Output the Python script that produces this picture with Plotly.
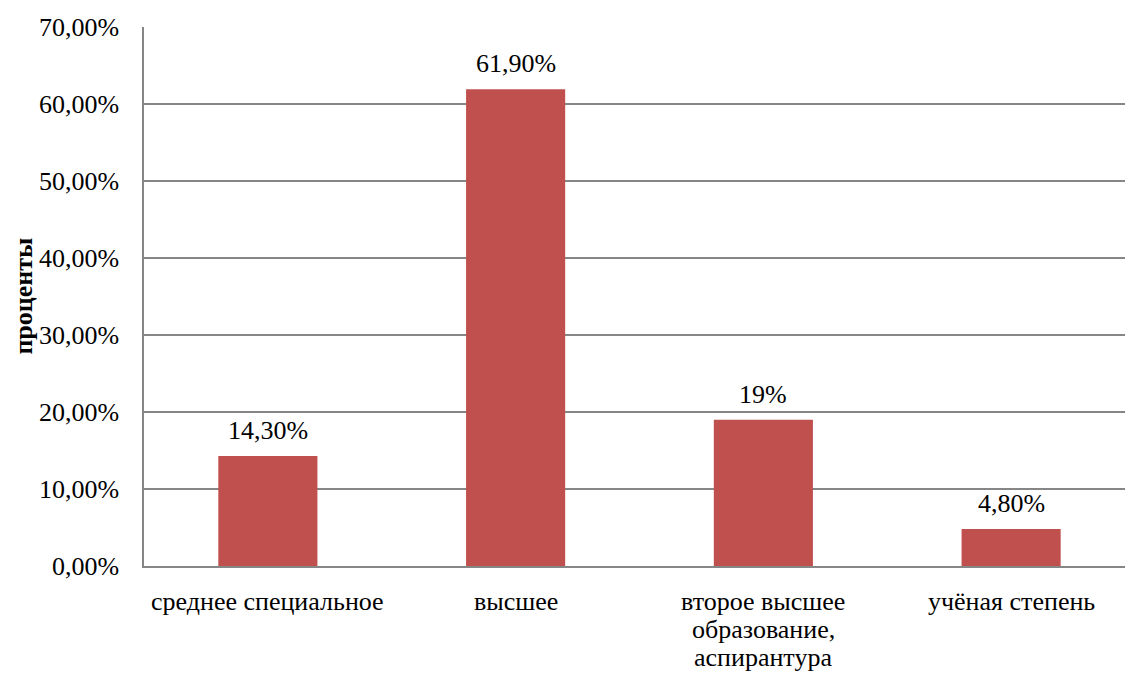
import plotly.graph_objects as go

categories = ["среднее специальное", "высшее", "второе высшее<br>образование,<br>аспирантура", "учёная степень"]
values = [14.3, 61.9, 19.0, 4.8]
value_labels = ["14,30%", "61,90%", "19%", "4,80%"]
tick_vals = [0, 10, 20, 30, 40, 50, 60, 70]
tick_text = ["0,00%", "10,00%", "20,00%", "30,00%", "40,00%", "50,00%", "60,00%", "70,00%"]

FONT = "Liberation Serif, Times New Roman, serif"
BAR = "#C0504D"
GRID = "#868686"
FS = 26

x_idx = list(range(len(categories)))

fig = go.Figure()
fig.add_trace(go.Bar(x=x_idx, y=values, width=0.4, marker=dict(color=BAR, line=dict(width=0)),
                     hoverinfo="skip"))

for xi, v, t in zip(x_idx, values, value_labels):
    fig.add_annotation(x=xi, y=v, text=t, showarrow=False, yanchor="bottom", yshift=9,
                       font=dict(family=FONT, size=FS, color="#000000"))

# category labels, one annotation per line (tighter line spacing like the reference)
for xi, cat in zip(x_idx, categories):
    for li, line in enumerate(cat.split("<br>")):
        fig.add_annotation(x=xi, y=0, text=line, showarrow=False, xanchor="center",
                           yanchor="middle", yshift=-(35 + li * 28),
                           font=dict(family=FONT, size=FS, color="#000000"))

fig.add_annotation(xref="paper", yref="paper", x=-121/982, y=0.5, text="<b>проценты</b>",
                   textangle=-90, showarrow=False, xanchor="center", yanchor="middle",
                   font=dict(family=FONT, size=FS, color="#000000"))

fig.update_layout(
    width=1125, height=673,
    margin=dict(l=144, r=0, t=27, b=107),
    paper_bgcolor="white", plot_bgcolor="white",
    showlegend=False,
    font=dict(family=FONT, size=FS, color="#000000"),
)
fig.update_xaxes(range=[-0.5, -0.5 + 982 / 248], tickvals=x_idx, showticklabels=False,
                 showline=True, linecolor=GRID, linewidth=1.5, showgrid=False, ticks="",
                 zeroline=False, automargin=False)
fig.update_yaxes(range=[0, 70], tickvals=tick_vals, ticktext=tick_text, showline=True,
                 linecolor=GRID, linewidth=1.5, showgrid=True, gridcolor=GRID, gridwidth=1.5,
                 ticks="", ticklabelstandoff=18, zeroline=False, automargin=False,
                 tickfont=dict(family=FONT, size=FS))

fig.write_html("out.html")
